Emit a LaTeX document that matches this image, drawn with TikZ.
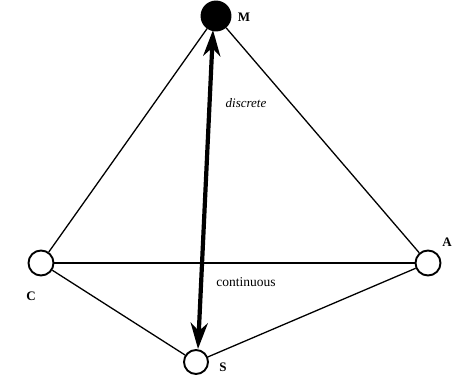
\documentclass[tikz,border=0pt]{standalone}
\usepackage{fontspec}
\setmainfont{Liberation Serif}
\usetikzlibrary{arrows.meta}
\begin{document}
\begin{tikzpicture}[x=1pt,y=-1pt,
  vert/.style={circle,draw,line width=1.9pt,minimum size=25pt,inner sep=0pt,fill=white},
  edge/.style={line width=1.3pt},
  lab/.style={font=\bfseries\fontsize{13}{15}\selectfont},
  big/.style={line width=4.2pt,{Stealth[length=26pt,width=17pt,inset=8pt]}-{Stealth[length=26pt,width=17pt,inset=8pt]}}]
\useasboundingbox (0,0) rectangle (454,375);
\node[vert,fill=black,minimum size=29pt] (M) at (216,16) {};
\node[vert] (C) at (41,263) {};
\node[vert] (A) at (428,263) {};
\node[vert,minimum size=24pt] (S) at (196,362) {};
\draw[edge] (M) -- (C);
\draw[edge] (M) -- (A);
\draw[edge] (C) -- (A);
\draw[edge] (C) -- (S);
\draw[edge] (A) -- (S);
\coordinate (top) at (213,30);
\coordinate (bot) at (198,349);
\draw[big] (top) -- (bot);
\node[lab] (Ml) at (244,17) {M};
\node[lab] (Cl) at (31,296) {C};
\node[lab] (Al) at (447,242) {A};
\node[lab] (Sl) at (223,367) {S};
\node[font=\itshape\fontsize{13}{15}\selectfont] (d) at (246,103) {discrete};
\node[font=\fontsize{13.5}{15}\selectfont] (c) at (246,282) {continuous};
\end{tikzpicture}
\end{document}
